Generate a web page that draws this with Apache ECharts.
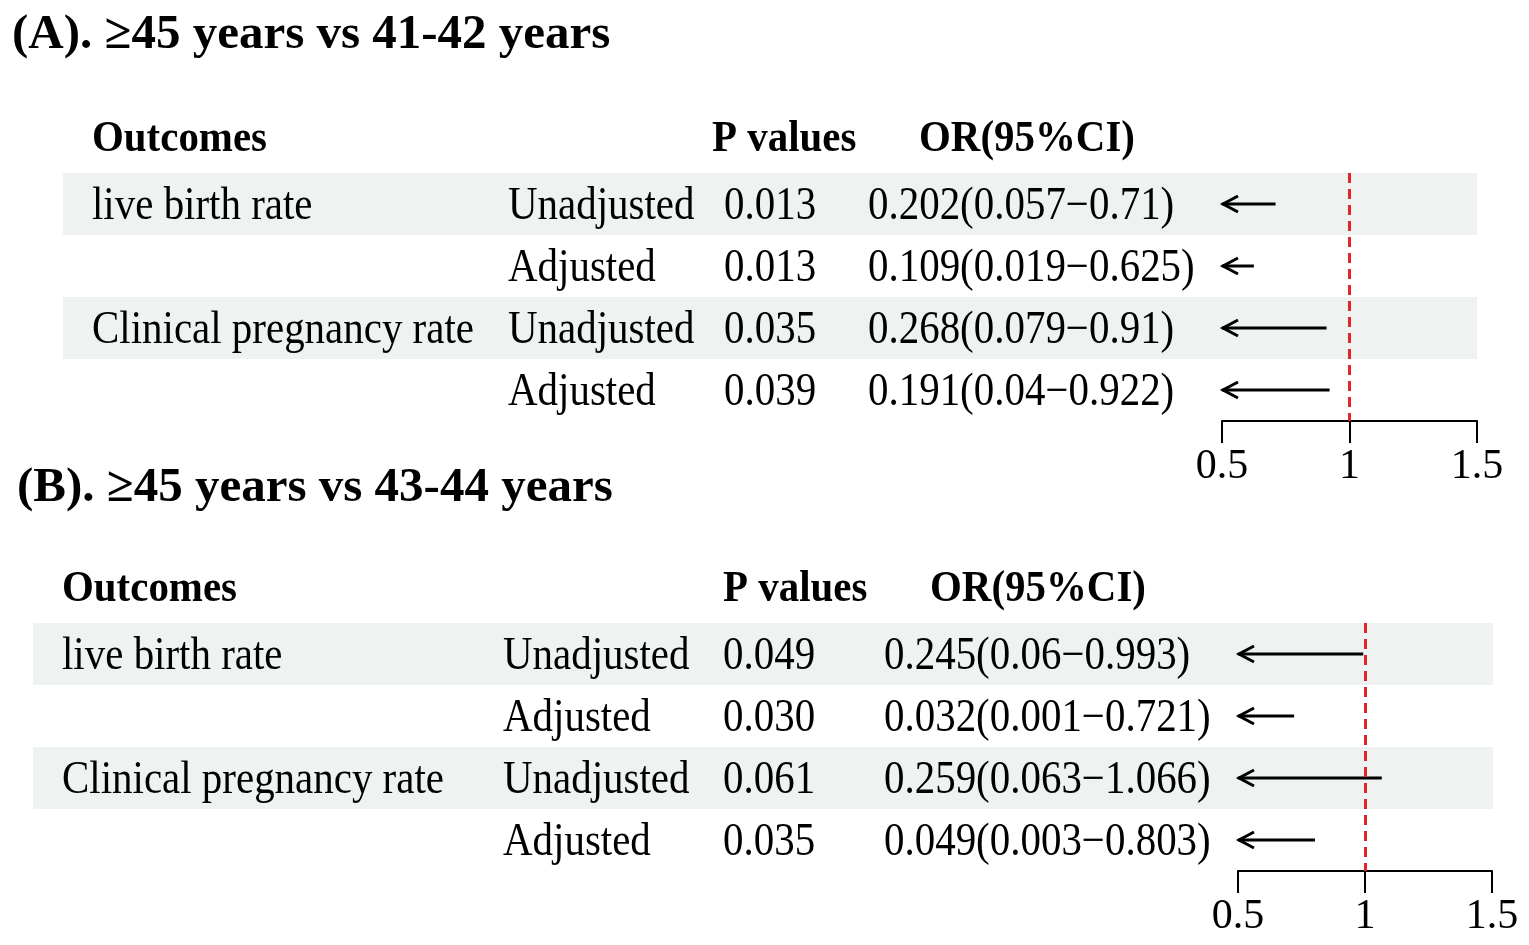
<!DOCTYPE html>
<html>
<head>
<meta charset="utf-8">
<script src="https://cdn.jsdelivr.net/npm/echarts@6/dist/echarts.min.js"></script>
<style>
  html, body { margin: 0; padding: 0; background: #fff; }
  #chart { width: 1529px; height: 945px; }
</style>
</head>
<body>
<div id="chart"></div>
<script>
  // table content
  const outcomes = ['live birth rate', '', 'Clinical pregnancy rate', '']
  const models = ['Unadjusted', 'Adjusted', 'Unadjusted', 'Adjusted']
  const headers = ['Outcomes', 'P values', 'OR(95%CI)']
  const xTicks = [0.5, 1, 1.5]

  // (A) >=45 vs 41-42
  const pA = [0.013, 0.013, 0.035, 0.039]
  const orA = [0.202, 0.109, 0.268, 0.191]
  const lowA = [0.057, 0.019, 0.079, 0.04]
  const highA = [0.71, 0.625, 0.91, 0.922]

  // (B) >=45 vs 43-44
  const pB = [0.049, 0.030, 0.061, 0.035]
  const orB = [0.245, 0.032, 0.259, 0.049]
  const lowB = [0.06, 0.001, 0.063, 0.003]
  const highB = [0.993, 0.721, 1.066, 0.803]

  const FONT = "'Times New Roman', 'Liberation Serif', serif"
  const ROW_H = 62
  const TEXT_SHIFT = 3
  const HEAD_SHIFT = -2
  const BAND = '#eef2f0'

  const panels = [
    {
      title: '(A). \u226545 years vs 41-42 years', titleLeft: 12, titleTop: 11,
      top: 173, band: [63, 1477],
      cols: { outcome: 92, model: 508, p: 724, or: 868 },
      head: { outcome: 92, p: 712, or: 919 },
      forest: [1222, 1477],
      p: pA, or: orA, low: lowA, high: highA
    },
    {
      title: '(B). \u226545 years vs 43-44 years', titleLeft: 17, titleTop: 464,
      top: 623, band: [33, 1493],
      cols: { outcome: 62, model: 503, p: 723, or: 884 },
      head: { outcome: 62, p: 723, or: 930 },
      forest: [1238, 1492],
      p: pB, or: orB, low: lowB, high: highB
    }
  ]

  function txt(x, y, text, bold) {
    return {
      type: 'text',
      x, y,
      scaleX: bold ? 0.93 : 0.89,
      style: {
        text,
        font: (bold ? 'bold 44px ' : '46px ') + FONT,
        fill: '#000',
        align: 'left', textAlign: 'left',
        verticalAlign: 'middle', textVerticalAlign: 'middle'
      }
    }
  }

  function tableItem(pn) {
    return function (params, api) {
      const i = params.dataIndex
      const y = api.coord([0, i])[1]
      const h = api.size([0, 1])[1]
      const cx = v => api.coord([v, i])[0]
      const children = []
      if (i === 0) {
        const hy = y + HEAD_SHIFT
        children.push(txt(cx(pn.head.outcome), hy, headers[0], true))
        children.push(txt(cx(pn.head.p), hy, headers[1], true))
        children.push(txt(cx(pn.head.or), hy, headers[2], true))
      } else {
        const r = i - 1
        const ty = y + TEXT_SHIFT
        if (r % 2 === 0) {
          children.push({
            type: 'rect',
            shape: { x: cx(pn.band[0]), y: y - h / 2, width: cx(pn.band[1]) - cx(pn.band[0]), height: h },
            style: { fill: BAND }
          })
        }
        if (outcomes[r]) children.push(txt(cx(pn.cols.outcome), ty, outcomes[r], false))
        children.push(txt(cx(pn.cols.model), ty, models[r], false))
        children.push(txt(cx(pn.cols.p), ty, pn.p[r].toFixed(3), false))
        children.push(txt(cx(pn.cols.or), ty,
          pn.or[r] + '(' + pn.low[r] + '\u2212' + pn.high[r] + ')', false))
      }
      return { type: 'group', children }
    }
  }

  function forestItem(params, api) {
    const est = api.value(0), r = api.value(1), lo = api.value(2), hi = api.value(3)
    const xMin = xTicks[0], xMax = xTicks[xTicks.length - 1]
    const y = api.coord([xMin, r])[1]
    const x0 = api.coord([Math.max(lo, xMin), r])[0]
    const x1 = api.coord([Math.min(hi, xMax), r])[0]
    const line = { stroke: '#000', lineWidth: 3, fill: null }
    const children = [{ type: 'line', shape: { x1: x0, y1: y, x2: x1, y2: y }, style: line }]
    if (lo < xMin) {
      children.push({ type: 'polyline', shape: { points: [[x0 + 16, y - 8], [x0 + 1, y], [x0 + 16, y + 8]] }, style: line })
    }
    if (hi > xMax) {
      children.push({ type: 'polyline', shape: { points: [[x1 - 16, y - 8], [x1 - 1, y], [x1 - 16, y + 8]] }, style: line })
    }
    if (est >= xMin && est <= xMax) {
      const p = api.coord([est, r])
      children.push({ type: 'rect', shape: { x: p[0] - 6, y: p[1] - 6, width: 12, height: 12 }, style: { fill: '#000' } })
    }
    return { type: 'group', children }
  }

  const grid = [], xAxis = [], yAxis = [], series = [], title = []
  panels.forEach((pn, k) => {
    title.push({
      text: pn.title, left: pn.titleLeft, top: pn.titleTop, padding: 0,
      textStyle: { fontFamily: FONT, fontWeight: 'bold', fontSize: 49, color: '#000' }
    })

    // table grid: pixel-wide x, header + 4 rows
    grid.push({ left: 0, width: 1529, top: pn.top - ROW_H, height: ROW_H * 5 })
    xAxis.push({ gridIndex: 2 * k, type: 'value', min: 0, max: 1529, show: false })
    yAxis.push({ gridIndex: 2 * k, type: 'category', data: [0, 1, 2, 3, 4], inverse: true, show: false })
    series.push({
      type: 'custom', xAxisIndex: 2 * k, yAxisIndex: 2 * k, z: 1, silent: true, clip: false,
      renderItem: tableItem(pn),
      data: [0, 1, 2, 3, 4].map(i => [0, i])
    })

    // forest grid
    grid.push({ left: pn.forest[0], width: pn.forest[1] - pn.forest[0], top: pn.top, height: ROW_H * 4 })
    xAxis.push({
      gridIndex: 2 * k + 1, type: 'value', min: xTicks[0], max: xTicks[2], interval: 0.5,
      position: 'bottom',
      axisLine: { show: true, onZero: false, lineStyle: { color: '#000', width: 2 } },
      axisTick: { show: true, length: 22, lineStyle: { color: '#000', width: 2 } },
      axisLabel: { color: '#000', fontFamily: FONT, fontSize: 42, margin: 25 },
      splitLine: { show: false }
    })
    yAxis.push({ gridIndex: 2 * k + 1, type: 'category', data: [0, 1, 2, 3], inverse: true, show: false })
    series.push({
      type: 'custom', xAxisIndex: 2 * k + 1, yAxisIndex: 2 * k + 1, z: 3, silent: true, clip: false,
      renderItem: forestItem,
      data: pn.or.map((v, i) => [v, i, pn.low[i], pn.high[i]]),
      markLine: {
        silent: true, symbol: 'none', label: { show: false },
        lineStyle: { color: '#e3262b', type: [10, 6], width: 3 },
        data: [{ xAxis: 1 }]
      }
    })
  })

  const myChart = echarts.init(document.getElementById('chart'))
  myChart.setOption({
    animation: false,
    backgroundColor: '#fff',
    title, grid, xAxis, yAxis, series
  })
</script>
</body>
</html>
